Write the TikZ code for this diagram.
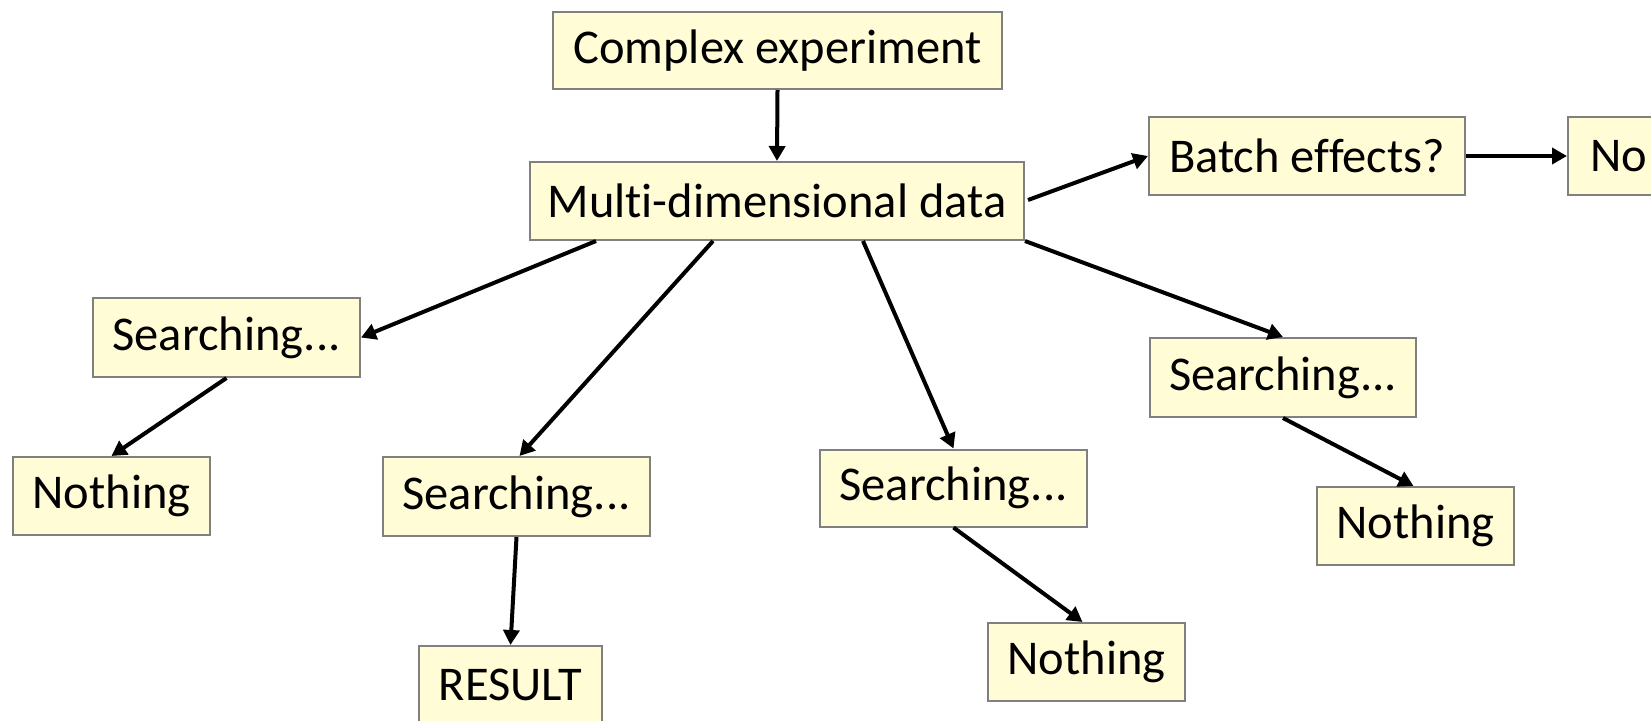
\documentclass[tikz,border=0pt]{standalone}
\usepackage{fontspec}
\setmainfont{Carlito}[Ligatures=NoCommon]
\usetikzlibrary{arrows.meta,calc}
\definecolor{boxfill}{RGB}{255,252,214}
\definecolor{boxline}{RGB}{128,128,128}
\tikzset{
  box/.style={draw=boxline, line width=2pt, fill=boxfill, inner sep=0pt,
    font=\fontsize{48.5pt}{58pt}\selectfont, text=black},
  arr/.style={line width=4pt, -{Triangle[length=15pt,width=16pt]}}
}
\begin{document}
\begin{tikzpicture}[x=1pt,y=-1pt]
\useasboundingbox (0,0) rectangle (1651,720);
\clip (0,0) rectangle (1651,720);
\fill[white] (0,0) rectangle (1651,720);
\node[box, minimum width=449pt, minimum height=77pt] (cx) at (777.5,50.5) {Complex experiment};
\node[box, minimum width=494pt, minimum height=78pt] (multi) at (777,201) {Multi-dimensional data};
\node[box, minimum width=316pt, minimum height=78pt] (batch) at (1307,156) {Batch effects?};
\node[box, minimum width=200pt, minimum height=78pt, anchor=west, text width=156pt, align=left] (no) at (1567,156) {No};
\node[box, minimum width=267pt, minimum height=79pt] (cs) at (226.5,337.5) {Searching...};
\node[box, minimum width=197pt, minimum height=78pt] (n1) at (111.5,496) {Nothing};
\node[box, minimum width=267pt, minimum height=79pt] (s2) at (516.5,496.5) {Searching...};
\node[box, minimum width=183pt, minimum height=78pt] (result) at (510.5,685) {RESULT};
\node[box, minimum width=267pt, minimum height=77pt] (s3) at (953.5,488) {Searching...};
\node[box, minimum width=197pt, minimum height=78pt] (n2) at (1086.5,662) {Nothing};
\node[box, minimum width=266pt, minimum height=79pt] (s4) at (1283,377.5) {Searching...};
\node[box, minimum width=197pt, minimum height=78pt] (n3) at (1415.5,526) {Nothing};

\draw[arr] (cx.south) -- (multi.north);
\draw[arr] ($(multi.east)+(3,-1)$) -- (batch.west);
\draw[arr] (batch.east) -- (no.west);
\draw[arr] ($(multi.south west)+(67,0)$) -- (cs.east);
\draw[arr] ($(multi.south west)+(184,0)$) -- ($(s2.north)+(3,0)$);
\draw[arr] ($(multi.south west)+(334,0)$) -- (s3.north);
\draw[arr] (multi.south east) -- (s4.north);
\draw[arr] (cs.south) -- (n1.north);
\draw[arr] (s2.south) -- (result.north);
\draw[arr] (s3.south) -- ($(n2.north)+(-4,0)$);
\draw[arr] (s4.south) -- ($(n3.north)+(-2,0)$);
\end{tikzpicture}
\end{document}
